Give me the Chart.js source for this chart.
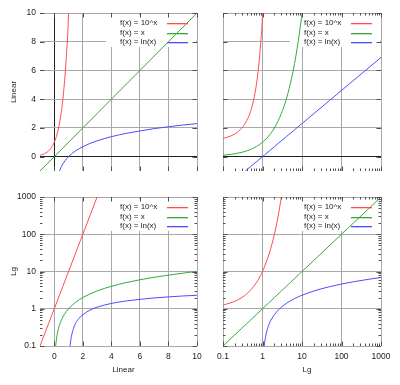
<!DOCTYPE html>
<html>
<head>
<meta charset="utf-8">
<script src="https://cdn.jsdelivr.net/npm/chart.js@4/dist/chart.umd.min.js"></script>
<style>
  html, body { margin: 0; padding: 0; background: #fff; }
  #wrap { position: relative; width: 400px; height: 385px; }
  #wrap canvas { position: absolute; left: 0; top: 0; }
</style>
</head>
<body>
<div id="wrap">
  <canvas id="c1" width="400" height="385"></canvas>
  <canvas id="c2" width="400" height="385"></canvas>
  <canvas id="c3" width="400" height="385"></canvas>
  <canvas id="c4" width="400" height="385"></canvas>
</div>
<script>
// Datos
const labels = ["f(x) = 10^x", "f(x) = x", "f(x) = ln(x)"];
const colores = ["#ff4c4c", "#38a838", "#4c4cff"];

// f(x) = 10^x
const powX = [-1, -0.8, -0.6, -0.4, -0.2, 0, 0.2, 0.4, 0.6, 0.8, 1, 1.5, 2, 2.5, 3];
const powY = [0.1, 0.158, 0.251, 0.398, 0.631, 1, 1.58, 2.51, 3.98, 6.31, 10, 31.6, 100, 316, 1000];
const powLogX = [0.1, 0.2, 0.3, 0.4, 0.5, 0.6, 0.7, 0.8, 0.9, 1, 1.5, 2, 2.5, 3];
const powLogY = [1.26, 1.58, 2.0, 2.51, 3.16, 3.98, 5.01, 6.31, 7.94, 10, 31.6, 100, 316, 1000];

// f(x) = x
const idLinX = [-1, 10];
const idX = [0.1, 0.15, 0.2, 0.3, 0.4, 0.5, 0.7, 1, 1.5, 2, 3, 4, 5, 6, 7, 8, 9, 10, 100, 1000];

// f(x) = ln(x)
const lnX = [0.368, 0.4, 0.5, 0.6, 0.75, 1, 1.105, 1.12, 1.2, 1.3, 1.5, 1.75, 2, 2.5, 3, 4, 5, 6, 7, 8, 9, 10, 20, 50, 100, 200, 500, 1000];
const lnY = [-1, -0.92, -0.69, -0.51, -0.29, 0, 0.1, 0.113, 0.18, 0.26, 0.41, 0.56, 0.69, 0.92, 1.1, 1.39, 1.61, 1.79, 1.95, 2.08, 2.2, 2.3, 3.0, 3.91, 4.61, 5.3, 6.21, 6.91];

// Ticks
const linTicks = [0, 2, 4, 6, 8, 10];
const logTicks = [0.1, 1, 10, 100, 1000];
const logMinor = [2, 3, 4, 5, 6, 7, 8, 9];

const fuente = "Liberation Sans, Arial, sans-serif";
const colorGrid = "#a8a8a8";
const colorTick = "#505050";
const colorTexto = "#222";

function puntos(xs, ys, soloPositivos) {
    const out = xs.map((x, i) => ({ x: x, y: ys[i] }));
    return soloPositivos ? out.filter((p) => p.y >= 0.1) : out;
}

// Paneles: lin/lin, log/lin, lin/log, log/log
const paneles = [
    { id: "c1", xLog: false, yLog: false, area: [40, 13, 197, 171], showX: false, showY: true,
      zeroX: true, zeroY: true, yTitle: "Linear", xTitle: "",
      series: [[powX, powY], [idLinX, idLinX], [lnX, lnY]] },
    { id: "c2", xLog: true, yLog: false, area: [223, 13, 381, 171], showX: false, showY: false,
      zeroX: false, zeroY: true, yTitle: "", xTitle: "",
      series: [[powLogX, powLogY], [idX, idX], [lnX, lnY]] },
    { id: "c3", xLog: false, yLog: true, area: [40, 197, 197, 346], showX: true, showY: true,
      zeroX: false, zeroY: false, yTitle: "Lg", xTitle: "Linear",
      series: [[powX, powY], [idX, idX], [lnX, lnY]] },
    { id: "c4", xLog: true, yLog: true, area: [223, 197, 381, 346], showX: true, showY: false,
      zeroX: false, zeroY: false, yTitle: "", xTitle: "Lg",
      series: [[powLogX, powLogY], [idX, idX], [lnX, lnY]] },
];

function linea(ctx, x1, y1, x2, y2) {
    ctx.beginPath();
    ctx.moveTo(x1, y1);
    ctx.lineTo(x2, y2);
    ctx.stroke();
}

function crearPlugin(p) {
    return {
        id: "gnu",
        beforeDatasetsDraw(chart) {
            // caja blanca de la leyenda
            const a = chart.chartArea;
            const ctx = chart.ctx;
            const tx = a.right - 77;
            ctx.save();
            ctx.fillStyle = "#fff";
            ctx.fillRect(tx - 14, a.top + 2, a.right - 1 - (tx - 14), 32);
            ctx.restore();
        },
        afterDatasetsDraw(chart) {
            const a = chart.chartArea;
            const ctx = chart.ctx;
            const sx = chart.scales.x;
            const sy = chart.scales.y;
            ctx.save();
            ctx.strokeStyle = colorTick;
            ctx.lineWidth = 1;

            // ticks del eje x
            const xt = p.xLog ? logTicks : linTicks;
            xt.forEach((v) => {
                const px = Math.round(sx.getPixelForValue(v)) + 0.5;
                linea(ctx, px, a.top, px, a.top + 4.5);
                linea(ctx, px, a.bottom, px, a.bottom - 4.5);
            });
            if (p.xLog) {
                logTicks.slice(0, -1).forEach((d) => {
                    logMinor.forEach((k) => {
                        const px = Math.round(sx.getPixelForValue(d * k)) + 0.5;
                        linea(ctx, px, a.top, px, a.top + 2.5);
                        linea(ctx, px, a.bottom, px, a.bottom - 2.5);
                    });
                });
            }
            // ticks del eje y
            const yt = p.yLog ? logTicks : linTicks;
            yt.forEach((v) => {
                const py = Math.round(sy.getPixelForValue(v)) + 0.5;
                linea(ctx, a.left, py, a.left + 4.5, py);
                linea(ctx, a.right, py, a.right - 4.5, py);
            });
            if (p.yLog) {
                logTicks.slice(0, -1).forEach((d) => {
                    logMinor.forEach((k) => {
                        const py = Math.round(sy.getPixelForValue(d * k)) + 0.5;
                        linea(ctx, a.left, py, a.left + 2.5, py);
                        linea(ctx, a.right, py, a.right - 2.5, py);
                    });
                });
            }

            // leyenda
            const tx = a.right - 77;
            ctx.font = "8px " + fuente;
            ctx.textBaseline = "middle";
            ctx.textAlign = "left";
            labels.forEach((txt, i) => {
                const y = Math.round(a.top + 10 + i * 9.5);
                ctx.fillStyle = colorTexto;
                ctx.fillText(txt, tx, y);
                ctx.fillStyle = colores[i];
                ctx.fillRect(a.right - 30, y, 21, 1.3);
            });

            // títulos de ejes
            ctx.fillStyle = colorTexto;
            ctx.textAlign = "center";
            if (p.yTitle) {
                ctx.save();
                ctx.translate(a.left - 26, (a.top + a.bottom) / 2);
                ctx.rotate(-Math.PI / 2);
                ctx.fillText(p.yTitle, 0, 0);
                ctx.restore();
            }
            if (p.xTitle) {
                ctx.fillText(p.xTitle, (a.left + a.right) / 2 + 5, a.bottom + 24);
            }
            ctx.restore();
        },
    };
}

function configEje(log, mostrar, zero, tam, esX) {
    const ticks = log ? logTicks : linTicks;
    return {
        type: log ? "logarithmic" : "linear",
        min: log ? 0.1 : -1,
        max: log ? 1000 : 10,
        afterBuildTicks: (s) => { s.ticks = ticks.map((v) => ({ value: v })); },
        afterFit: (s) => {
            if (s.isHorizontal()) s.height = tam;
            else s.width = tam;
            s.paddingLeft = 0;
            s.paddingRight = 0;
            s.paddingTop = 0;
            s.paddingBottom = 0;
        },
        border: { display: false },
        grid: {
            drawTicks: false,
            tickLength: 0,
            lineWidth: 1,
            color: (c) => (zero && c.tick && c.tick.value === 0 ? "#202020" : colorGrid),
        },
        ticks: {
            display: mostrar,
            autoSkip: false,
            maxRotation: 0,
            padding: esX ? 6 : 4,
            color: colorTexto,
            font: { family: fuente, size: 8.5 },
            callback: (v) => String(v),
        },
    };
}

paneles.forEach((p) => {
    const [l, t, r, b] = p.area;
    const datasets = p.series.map((s, i) => ({
        label: labels[i],
        data: puntos(s[0], s[1], p.yLog),
        borderColor: colores[i],
        borderWidth: 1,
        pointRadius: 0,
        cubicInterpolationMode: "monotone",
        fill: false,
    }));
    new Chart(document.getElementById(p.id).getContext("2d"), {
        type: "line",
        data: { datasets: datasets },
        options: {
            responsive: false,
            animation: false,
            layout: { padding: { left: 0, top: t, right: 400 - r, bottom: 0 } },
            plugins: { legend: { display: false }, tooltip: { enabled: false } },
            scales: {
                x: configEje(p.xLog, p.showX, p.zeroX, 385 - b, true),
                y: configEje(p.yLog, p.showY, p.zeroY, l, false),
            },
        },
        plugins: [crearPlugin(p)],
    });
});
</script>
</body>
</html>
